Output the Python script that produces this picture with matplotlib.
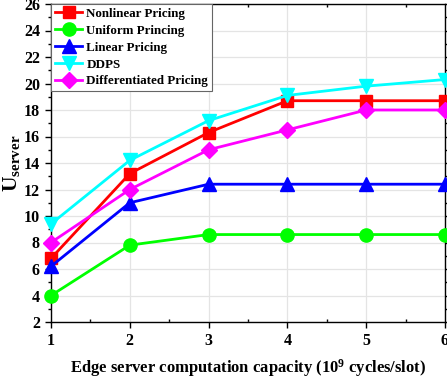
import matplotlib
matplotlib.use("Agg")
import matplotlib.pyplot as plt
from matplotlib.ticker import MultipleLocator

plt.rcParams['font.family'] = ['Liberation Serif', 'DejaVu Serif']
plt.rcParams['font.weight'] = 'bold'
plt.rcParams['mathtext.fontset'] = 'custom'
plt.rcParams['mathtext.rm'] = 'Liberation Serif:bold'
plt.rcParams['mathtext.bf'] = 'Liberation Serif:bold'
plt.rcParams['mathtext.it'] = 'Liberation Serif:bold:italic'

capacity = [1, 2, 3, 4, 5, 6]
nonlinear = [6.8, 13.2, 16.3, 18.7, 18.7, 18.7]
uniform = [4.0, 7.8, 8.6, 8.6, 8.6, 8.6]
linear = [6.2, 11.0, 12.4, 12.4, 12.4, 12.4]
ddps = [9.4, 14.2, 17.2, 19.1, 19.8, 20.3]
differentiated = [8.0, 12.0, 15.0, 16.5, 18.0, 18.0]

series = [
    ("Nonlinear Pricing", nonlinear, "#FF0000", "s", 8),
    ("Uniform Princing", uniform, "#00FF00", "o", 9.5),
    ("Linear Pricing", linear, "#0000FF", "^", 10),
    ("DDPS", ddps, "#00FFFF", "v", 10),
    ("Differentiated Pricing", differentiated, "#FF00FF", "D", 8),
]

fig = plt.figure(figsize=(4.47, 3.81), dpi=100)
ax = fig.add_axes([51 / 447, 59 / 381, 394 / 447, 318 / 381])

for label, vals, color, marker, ms in series:
    ax.plot(capacity, vals, color=color, lw=2, marker=marker, ms=ms,
            label=label, clip_on=False, zorder=3)

ax.set_xlim(1, 6)
ax.set_ylim(2, 26)
ax.xaxis.set_major_locator(MultipleLocator(1))
ax.xaxis.set_minor_locator(MultipleLocator(0.5))
ax.yaxis.set_major_locator(MultipleLocator(2))
ax.yaxis.set_minor_locator(MultipleLocator(1))
ax.grid(True, which='major', color='#e4e4e4', lw=0.9, zorder=0)

ax.tick_params(axis='both', which='major', labelsize=11.5, length=4, width=1,
               direction='out', top=False, right=True, pad=4)
ax.tick_params(axis='both', which='minor', length=2.5, width=1,
               direction='out', right=True)
ax.tick_params(axis='y', which='both', right=True, labelright=False)
ax.tick_params(axis='x', which='minor', top=True, direction='in')
for sp in ax.spines.values():
    sp.set_linewidth(1.0)

ax.set_xlabel(r'Edge server computation capacity (10$^{9}$ cycles/slot)',
              fontsize=12, fontweight='bold', labelpad=6)
ax.set_ylabel(r'$\mathrm{U}_{\mathrm{server}}$', fontsize=15.5, labelpad=1)

leg = ax.legend(loc='upper left', handlelength=2.1,
                handletextpad=0.3, borderpad=0.3, labelspacing=0.36,
                borderaxespad=0.0, fancybox=False, framealpha=1,
                edgecolor='#666666', prop={'weight': 'bold', 'size': 9.4})
leg.get_frame().set_linewidth(0.8)

fig.savefig("out.png", dpi=100)
